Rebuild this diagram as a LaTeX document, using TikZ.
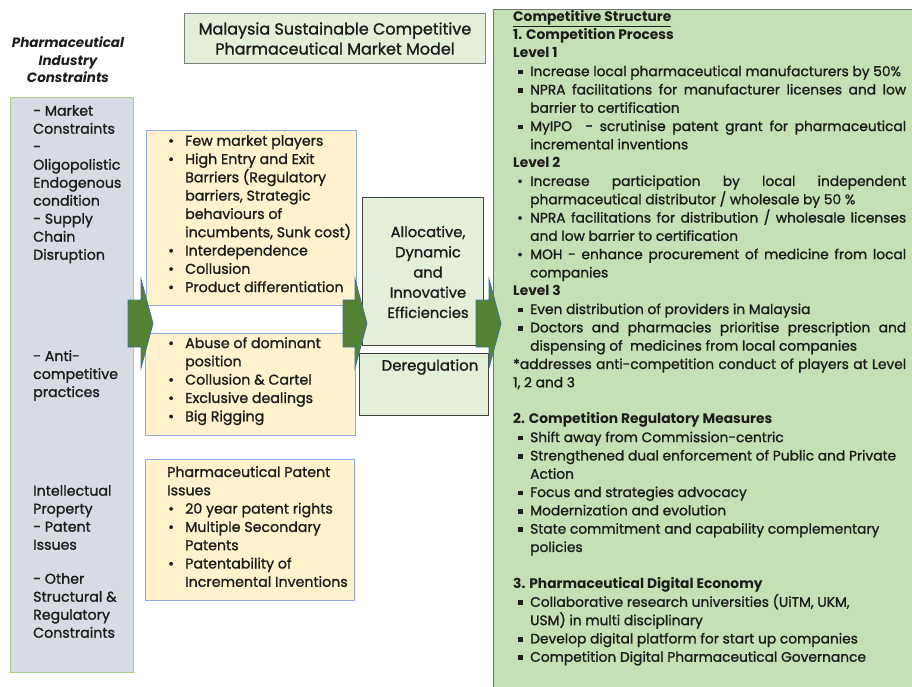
\documentclass[tikz,border=0pt]{standalone}
\usepackage{fontspec}
\setmainfont{Poppins}[UprightFeatures={FakeBold=1.2}]
\usetikzlibrary{calc}

\definecolor{constraintfill}{RGB}{214,220,229}
\definecolor{constraintline}{RGB}{169,209,142}
\definecolor{issuefill}{RGB}{255,242,204}
\definecolor{issueline}{RGB}{143,170,220}
\definecolor{palegreen}{RGB}{226,240,217}
\definecolor{structfill}{RGB}{197,224,180}
\definecolor{arrowgreen}{RGB}{84,130,53}
\definecolor{arrowedge}{RGB}{65,113,156}
\definecolor{ink}{RGB}{28,28,28}

% bullets for the lists
\newcommand{\sqbul}{\makebox[17pt][l]{\hspace{5pt}\raisebox{1.7pt}{\rule{4.8pt}{4.8pt}}}}
\newcommand{\rdbul}{\makebox[17pt][l]{\hspace{4pt}\textbullet}}
\newcommand{\hang}{\hspace*{17pt}}
\newcommand{\fillline}[1]{\makebox[376pt][s]{#1}}
\newcommand{\mbul}{\makebox[18pt][l]{\hspace{1pt}\textbullet}}
\newcommand{\mhang}{\hspace*{18pt}}

% block arrow: tail x, shaft end x, tip x
\newcommand{\fatarrow}[3]{%
  \draw[blockarrow] (#1,300) -- (#2,300) -- (#2,279) -- (#3,323.5)
    -- (#2,368) -- (#2,347) -- (#1,347) -- cycle;}

\tikzset{
  panel/.style={rectangle, anchor=north west, inner sep=0pt},
  constraintbox/.style={panel, draw=constraintline, fill=constraintfill, line width=1pt},
  issuebox/.style={panel, draw=issueline, fill=issuefill, line width=1pt},
  resultbox/.style={panel, draw=black!75, fill=palegreen, line width=1pt},
  titlebox/.style={panel, draw=black!50, fill=palegreen, line width=1pt},
  structbox/.style={panel, draw=black!55, fill=structfill, line width=1.3pt},
  bodytext/.style={anchor=north west, align=left, inner sep=0pt, text=ink,
    font=\fontsize{14.2}{18.3}\selectfont},
  sidetext/.style={bodytext, font=\fontsize{14.2}{18}\selectfont},
  centretext/.style={align=center, inner sep=0pt, text=ink},
  blockarrow/.style={fill=arrowgreen, draw=arrowedge, line width=0.8pt, line join=miter}
}

\begin{document}
\begin{tikzpicture}[x=1pt,y=-1pt]
\useasboundingbox[fill=white] (0,0) rectangle (912,686);

% left column
\node[centretext, font=\fontsize{13.5}{17.5}\selectfont\bfseries\itshape] (head) at (68,60)
  {Pharmaceutical\\Industry\\Constraints};
\node[constraintbox, minimum width=123pt, minimum height=575pt] (constraints) at (10,97) {};
\node[sidetext] (marketc) at (33,105)
  {- Market\\Constraints\\-\\Oligopolistic\\Endogenous\\condition\\- Supply\\Chain\\Disruption};
\node[sidetext] (antic) at (33,350)
  {- Anti-\\competitive\\practices};
\node[sidetext] (ipc) at (33,485)
  {Intellectual\\Property\\- Patent\\Issues};
\node[sidetext] (otherc) at (33,573)
  {- Other\\Structural \&\\Regulatory\\Constraints};

% title
\node[titlebox, minimum width=301pt, minimum height=50pt] (title) at (184,13) {};
\node[centretext, font=\fontsize{16}{20}\selectfont] (titletext) at (title.center)
  {Malaysia Sustainable Competitive\\Pharmaceutical Market Model};

% middle column
\node[issuebox, minimum width=210pt, minimum height=175pt] (market) at (146,130) {};
\node[bodytext] (markettext) at ($(market.north west)+(21,5)$)
  {\mbul Few market players\\
   \mbul High Entry and Exit\\
   \mhang Barriers (Regulatory\\
   \mhang barriers, Strategic\\
   \mhang behaviours of\\
   \mhang incumbents, Sunk cost)\\
   \mbul Interdependence\\
   \mbul Collusion\\
   \mbul Product differentiation};

\node[issuebox, minimum width=210pt, minimum height=102pt] (conduct) at (145,333) {};
\node[bodytext] (conducttext) at ($(conduct.north west)+(22,4)$)
  {\mbul Abuse of dominant\\
   \mhang position\\
   \mbul Collusion \& Cartel\\
   \mbul Exclusive dealings\\
   \mbul Big Rigging};

\node[issuebox, minimum width=209pt, minimum height=141pt] (patent) at (145,459) {};
\node[bodytext] (patenttext) at ($(patent.north west)+(22,7)$)
  {Pharmaceutical Patent\\
   Issues\\
   \mbul 20 year patent rights\\
   \mbul Multiple Secondary\\
   \mhang Patents\\
   \mbul Patentability of\\
   \mhang Incremental Inventions};

\node[resultbox, minimum width=121pt, minimum height=148pt] (efficiency) at (362,197) {};
\node[centretext, font=\fontsize{14.7}{20.2}\selectfont] (efficiencytext) at (428,272)
  {Allocative,\\Dynamic\\and\\Innovative\\Efficiencies};
\node[resultbox, minimum width=129pt, minimum height=62pt] (dereg) at (359,353) {};
\node[centretext, font=\fontsize{15}{20}\selectfont] (deregtext) at ($(dereg.north)+(6,14)$)
  {Deregulation};

% right column
\node[structbox, minimum width=440pt, minimum height=700pt] (structure) at (493,9) {};
\node[bodytext, font=\fontsize{13.8}{18.3}\selectfont] (structtext) at (513,10)
  {\textbf{\underline{Competitive Structure}}\\
   \textbf{1. Competition Process}\\
   \textbf{Level 1}\\
   \sqbul Increase local pharmaceutical manufacturers by 50\%\\
   \sqbul\fillline{NPRA facilitations for manufacturer licenses and low}\\
   \hang barrier to certification\\
   \sqbul\fillline{MyIPO \ - scrutinise patent grant for pharmaceutical}\\
   \hang incremental inventions\\
   \textbf{Level 2}\\
   \rdbul\fillline{Increase participation by local independent}\\
   \hang pharmaceutical distributor / wholesale by 50 \%\\
   \rdbul\fillline{NPRA facilitations for distribution / wholesale licenses}\\
   \hang and low barrier to certification\\
   \rdbul\fillline{MOH - enhance procurement of medicine from local}\\
   \hang companies\\
   \textbf{Level 3}\\
   \sqbul Even distribution of providers in Malaysia\\
   \sqbul\fillline{Doctors and pharmacies prioritise prescription and}\\
   \hang dispensing of \ medicines from local companies\\
   \makebox[393pt][s]{*addresses anti-competition conduct of players at Level}\\
   1, 2 and 3\\[18.3pt]
   \textbf{2. Competition Regulatory Measures}\\
   \sqbul Shift away from Commission-centric\\
   \sqbul Strengthened dual enforcement of Public and Private\\
   \hang Action\\
   \sqbul Focus and strategies advocacy\\
   \sqbul Modernization and evolution\\
   \sqbul State commitment and capability complementary\\
   \hang policies\\[18.3pt]
   \textbf{3. Pharmaceutical Digital Economy}\\
   \sqbul Collaborative research universities (UiTM, UKM,\\
   \hang USM) in multi disciplinary\\
   \sqbul Develop digital platform for start up companies\\
   \sqbul Competition Digital Pharmaceutical Governance};

% arrows between the columns
\fatarrow{128}{141}{153}
\fatarrow{343}{355}{367}
\fatarrow{476}{489}{501}
\end{tikzpicture}
\end{document}
